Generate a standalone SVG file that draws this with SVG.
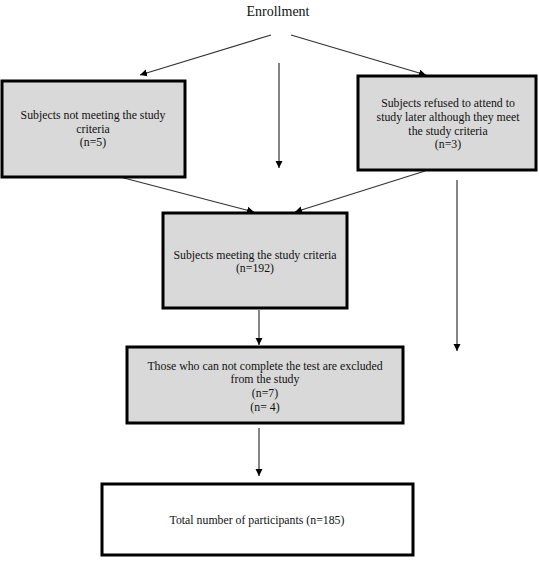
<svg xmlns="http://www.w3.org/2000/svg" width="539" height="564" viewBox="0 0 539 564">
  <style>
    .box { fill: #d9d9d9; stroke: #000; stroke-width: 3; }
    .wbox { fill: #fff; stroke: #000; stroke-width: 3; }
    .t { font-family: "Liberation Serif", "Times New Roman", serif; font-size: 11.8px; fill: #111; text-anchor: middle; }
    .title { font-family: "Liberation Serif", "Times New Roman", serif; font-size: 14px; fill: #111; text-anchor: middle; }
    .c { stroke: #333; stroke-width: 1.2; fill: none; marker-end: url(#ah); }
  </style>
  <defs>
    <marker id="ah" markerUnits="userSpaceOnUse" markerWidth="8" markerHeight="8" viewBox="0 0 8 8" refX="7" refY="4" orient="auto">
      <path d="M0,0.5 L7,4 L0,7.5 Z" fill="#000"/>
    </marker>
  </defs>
  <rect width="539" height="564" fill="#fff"/>
  <g id="enrollment">
    <text class="title" x="278" y="16">Enrollment</text>
  </g>
  <g id="connectors">
    <line class="c" x1="271" y1="35" x2="140" y2="75"/>
    <line class="c" x1="291" y1="35" x2="426" y2="75"/>
    <line class="c" x1="279" y1="63" x2="279" y2="168"/>
    <line class="c" x1="120" y1="177" x2="254" y2="212"/>
    <line class="c" x1="425" y1="171" x2="295" y2="212"/>
    <line class="c" x1="457" y1="180" x2="457" y2="351"/>
    <line class="c" x1="259" y1="310" x2="259" y2="345"/>
    <line class="c" x1="259" y1="428" x2="259" y2="476"/>
  </g>
  <g id="not-meeting">
    <rect class="box" x="2" y="81" width="183" height="96"/>
    <text class="t" x="93" y="119">Subjects not meeting the study</text>
    <text class="t" x="93" y="133">criteria</text>
    <text class="t" x="93" y="146">(n=5)</text>
  </g>
  <g id="refused">
    <rect class="box" x="358" y="76" width="178" height="94"/>
    <text class="t" x="448" y="107">Subjects refused to attend to</text>
    <text class="t" x="448" y="121">study later although they meet</text>
    <text class="t" x="448" y="135">the study criteria</text>
    <text class="t" x="448" y="148">(n=3)</text>
  </g>
  <g id="meeting">
    <rect class="box" x="163" y="213" width="184" height="95"/>
    <text class="t" x="255" y="259">Subjects meeting the study criteria</text>
    <text class="t" x="255" y="272">(n=192)</text>
  </g>
  <g id="excluded">
    <rect class="box" x="127" y="347" width="276" height="76"/>
    <text class="t" x="265" y="370">Those who can not complete the test are excluded</text>
    <text class="t" x="265" y="383">from the study</text>
    <text class="t" x="265" y="397">(n=7)</text>
    <text class="t" x="265" y="411">(n= 4)</text>
  </g>
  <g id="total">
    <rect class="wbox" x="102" y="484" width="311" height="71"/>
    <text class="t" x="257" y="524">Total number of participants (n=185)</text>
  </g>
</svg>
